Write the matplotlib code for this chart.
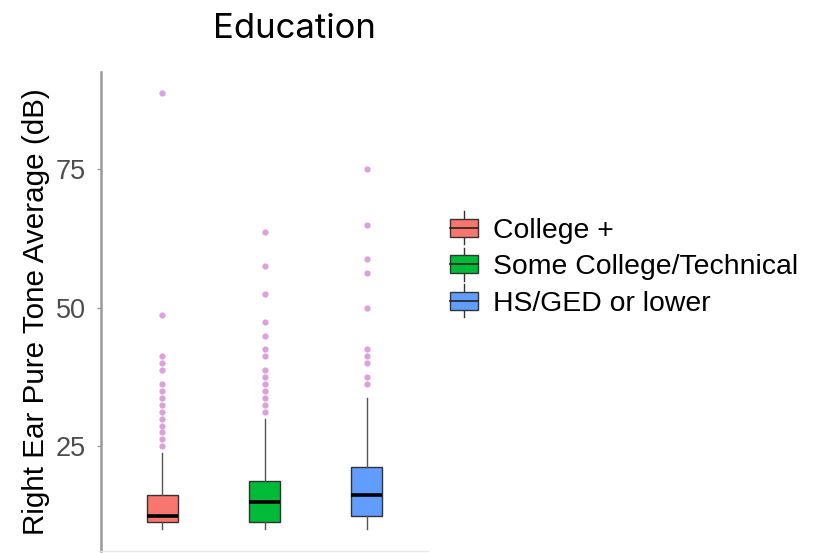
import matplotlib
matplotlib.use("Agg")
import matplotlib.pyplot as plt
from matplotlib.legend_handler import HandlerBase
from matplotlib.patches import Rectangle, Patch
from matplotlib.lines import Line2D

plt.rcParams['font.family'] = ['Liberation Sans', 'DejaVu Sans']

# summary values (dB)
groups = ["College +", "Some College/Technical", "HS/GED or lower"]
colors = ["#F8766D", "#00BA38", "#619CFF"]
q1 = [11.25, 11.25, 12.5]
med = [12.5, 15.0, 16.25]
q3 = [16.25, 18.75, 21.25]
whis_lo = [10.0, 10.0, 10.0]
whis_hi = [23.75, 30.0, 33.75]
outliers_college = [88.75, 48.75, 41.25, 40.0, 38.75, 36.25, 35.0, 33.75,
                    32.5, 31.25, 30.0, 28.75, 27.5, 26.25, 25.0]
outliers_some = [63.75, 57.5, 52.5, 47.5, 45.0, 42.5, 41.25, 38.75, 37.5,
                 36.25, 35.0, 33.75, 32.5, 31.25]
outliers_hs = [75.0, 65.0, 58.75, 56.25, 50.0, 42.5, 41.25, 40.0, 37.5, 36.25]
outliers = [outliers_college, outliers_some, outliers_hs]
yticks = [25, 50, 75]


class BoxKey(HandlerBase):
    # legend key drawn like a small boxplot
    def __init__(self, color):
        super().__init__()
        self.color = color

    def create_artists(self, legend, orig_handle, xdescent, ydescent,
                       width, height, fontsize, trans):
        cx = width / 2 - xdescent
        bw = width * 0.98
        bh = height * 0.85
        y0 = -ydescent + (height - bh) / 2
        whisk = Line2D([cx, cx], [-ydescent - height * 0.3, -ydescent + height * 1.3],
                       color="#333333", lw=1, transform=trans)
        box = Rectangle((cx - bw / 2, y0), bw, bh, facecolor=self.color,
                        edgecolor="#333333", lw=1, transform=trans)
        mid = Line2D([cx - bw / 2, cx + bw / 2], [y0 + bh / 2, y0 + bh / 2],
                     color="#222222", lw=1.2, transform=trans)
        return [whisk, box, mid]


fig = plt.figure(figsize=(8.16, 5.53), dpi=100)
ax = fig.add_axes([101 / 816, 2 / 553, 327 / 816, 479 / 553])

stats = []
for i in range(3):
    stats.append(dict(med=med[i], q1=q1[i], q3=q3[i], whislo=whis_lo[i],
                      whishi=whis_hi[i], fliers=outliers[i], label=groups[i]))

bp = ax.bxp(stats, positions=[1, 2, 3], widths=0.3, patch_artist=True,
            showcaps=False,
            boxprops=dict(edgecolor="#333333", linewidth=1),
            whiskerprops=dict(color="#555555", linewidth=1),
            medianprops=dict(color="black", linewidth=2.6),
            flierprops=dict(marker="o", markersize=4.5, markerfacecolor="#DDA0DD",
                            markeredgecolor="none"))
for patch, c in zip(bp["boxes"], colors):
    patch.set_facecolor(c)

ax.set_xlim(0.4, 3.6)
ax.set_ylim(6.1, 92.6)
ax.set_yticks(yticks)
ax.set_xticks([])
ax.tick_params(axis="y", length=3, width=1, color="#999999",
               labelsize=19.5, labelcolor="#4D4D4D", pad=8)
for s in ["top", "right"]:
    ax.spines[s].set_visible(False)
ax.spines["left"].set_color("#9A9A9A")
ax.spines["left"].set_linewidth(1.8)
ax.spines["bottom"].set_color("#E8E8E8")
ax.spines["bottom"].set_linewidth(1)
ax.set_ylabel("Right Ear Pure Tone Average (dB)", fontsize=21.3, color="black",
              labelpad=4)

fig.text(294 / 816, 1 - 38 / 553, "Education", fontsize=25, ha="center",
         va="baseline", family=["Inter", "DejaVu Sans"])

handles = [Patch(label=g) for g in groups]
handler_map = {h: BoxKey(c) for h, c in zip(handles, colors)}
fig.legend(handles=handles, handler_map=handler_map, loc="center left",
           bbox_to_anchor=(450 / 816, 1 - 267 / 553), frameon=False,
           fontsize=20.4, handlelength=1.0, handleheight=0.75,
           handletextpad=0.5, labelspacing=0.36, borderaxespad=0,
           borderpad=0)

fig.savefig("out.png", dpi=100)
